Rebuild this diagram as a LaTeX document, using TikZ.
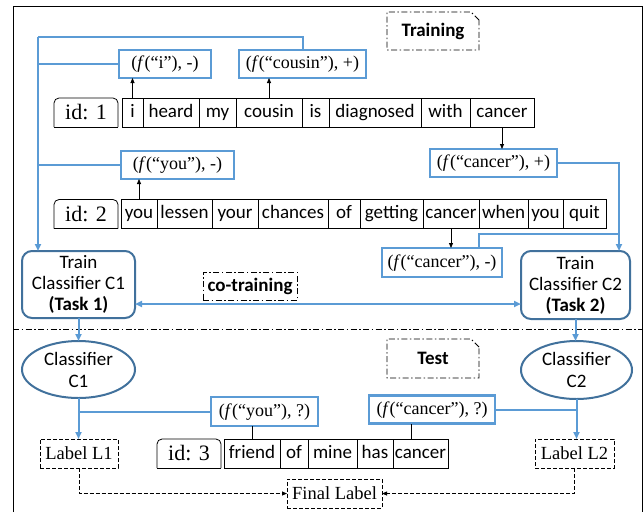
\documentclass[tikz,border=0pt]{standalone}
\usepackage{fontspec}
\setmainfont{Liberation Serif}
\setsansfont{Carlito}
\usepackage{tikz}
\usetikzlibrary{positioning,arrows.meta,shapes.geometric,shapes.misc}
\definecolor{lineblue}{RGB}{91,155,213}
\definecolor{edgeblue}{RGB}{65,113,156}

\begin{document}
\begin{tikzpicture}[x=1pt,y=1pt]
        \tikzstyle{every node}+=[inner sep=0pt, outer sep=0pt]
        \tikzstyle{word}=[draw, line width=0.8pt, font=\sffamily\fontsize{19}{21}\selectfont, minimum height=29pt, text height=13.5pt, text depth=4pt]
        \tikzstyle{idtab}=[font=\fontsize{22}{24}\selectfont, minimum width=64pt, minimum height=29pt, text height=15pt, text depth=1pt]
        \tikzstyle{feat}=[draw=lineblue, line width=2.2pt, font=\fontsize{18}{20}\selectfont, minimum height=28pt, text height=13pt, text depth=4pt]
        \tikzstyle{train}=[draw=edgeblue, line width=2pt, rounded corners=10pt, align=center, font=\sffamily\fontsize{19}{21}\selectfont]
        \tikzstyle{clf}=[draw=edgeblue, line width=2pt, ellipse, align=center, font=\sffamily\fontsize{19}{22}\selectfont]
        \tikzstyle{dashdot}=[dash pattern=on 6pt off 2.5pt on 1.5pt off 2.5pt]
        \tikzstyle{tag}=[draw, line width=0.8pt, dashdot, chamfered rectangle, chamfered rectangle corners=north east, chamfered rectangle xsep=4pt, chamfered rectangle ysep=4pt, font=\sffamily\bfseries\fontsize{19}{21}\selectfont]
        \tikzstyle{lbl}=[draw, line width=0.8pt, dash pattern=on 4pt off 2pt, minimum height=29pt, font=\fontsize{18.5}{20}\selectfont]
        \tikzstyle{bl}=[draw=lineblue, line width=2pt]
        \tikzstyle{blarrow}=[bl, -{Triangle[length=7pt,width=6pt]}]
        \tikzstyle{blkarrow}=[line width=0.8pt, -{Triangle[length=5pt,width=4pt]}]
        \tikzstyle{dasharrow}=[line width=0.8pt, dash pattern=on 4pt off 2pt, -{Triangle[length=5pt,width=4pt]}]
        \useasboundingbox (0,0) rectangle (644,-512);
        % frame and divider
        \draw [black, line width=1pt] (13,-512) -- (13,-6) -- (642,-6) -- (642,-512);
        \draw [black, line width=0.8pt, dashdot] (13,-329) -- (642,-329);
        % headings
        \node [tag, minimum width=92pt, minimum height=38pt] (trn) at (433,-31) {Training};
        \node [tag, minimum width=92pt, minimum height=39pt] (tst) at (433,-358.5) {Test};
        \node [draw, line width=0.8pt, dashdot, minimum width=94pt, minimum height=28pt, font=\sffamily\bfseries\fontsize{19}{21}\selectfont] (cot) at (250,-286) {co-training};
        % sentence 1
        \node [idtab] (id1) at (86,-112.5) {id: 1};
        \draw [black, line width=0.8pt, rounded corners=5pt] (id1.south west) -- (id1.north west) -- (id1.north east) -- (id1.south east);
        \draw [black, line width=0.8pt] (id1.south west) -- (id1.south east);
        \node [word, minimum width=21pt, right=4pt of id1] (r1w1) {i};
        \node [word, minimum width=56pt, right=0pt of r1w1] (r1w2) {heard};
        \node [word, minimum width=37pt, right=0pt of r1w2] (r1w3) {my};
        \node [word, minimum width=66pt, right=0pt of r1w3] (r1w4) {cousin};
        \node [word, minimum width=27pt, right=0pt of r1w4] (r1w5) {is};
        \node [word, minimum width=92pt, right=0pt of r1w5] (r1w6) {diagnosed};
        \node [word, minimum width=49pt, right=0pt of r1w6] (r1w7) {with};
        \node [word, minimum width=64pt, right=0pt of r1w7] (r1w8) {cancer};
        % sentence 2
        \node [idtab] (id2) at (86,-214) {id: 2};
        \draw [black, line width=0.8pt, rounded corners=5pt] (id2.south west) -- (id2.north west) -- (id2.north east) -- (id2.south east);
        \draw [black, line width=0.8pt] (id2.south west) -- (id2.south east);
        \node [word, minimum width=36pt, right=3pt of id2] (r2w1) {you};
        \node [word, minimum width=55pt, right=0pt of r2w1] (r2w2) {lessen};
        \node [word, minimum width=46pt, right=0pt of r2w2] (r2w3) {your};
        \node [word, minimum width=70pt, right=0pt of r2w3] (r2w4) {chances};
        \node [word, minimum width=32pt, right=0pt of r2w4] (r2w5) {of};
        \node [word, minimum width=63pt, right=0pt of r2w5] (r2w6) {getting};
        \node [word, minimum width=56pt, right=0pt of r2w6] (r2w7) {cancer};
        \node [word, minimum width=49pt, right=0pt of r2w7] (r2w8) {when};
        \node [word, minimum width=35pt, right=0pt of r2w8] (r2w9) {you};
        \node [word, minimum width=43pt, right=0pt of r2w9] (r2w10) {quit};
        % sentence 3
        \node [idtab] (id3) at (189,-453.5) {id: 3};
        \draw [black, line width=0.8pt, rounded corners=5pt] (id3.south west) -- (id3.north west) -- (id3.north east) -- (id3.south east);
        \draw [black, line width=0.8pt] (id3.south west) -- (id3.south east);
        \node [word, minimum width=56pt, right=3pt of id3] (r3w1) {friend};
        \node [word, minimum width=28pt, right=0pt of r3w1] (r3w2) {of};
        \node [word, minimum width=49pt, right=0pt of r3w2] (r3w3) {mine};
        \node [word, minimum width=36pt, right=0pt of r3w3] (r3w4) {has};
        \node [word, minimum width=55pt, right=0pt of r3w4] (r3w5) {cancer};
        % features
        \node [feat, minimum width=92pt] (fi) at (165,-64) {(\textit{f}(“i”), -)};
        \node [feat, minimum width=127pt] (fcousin) at (302.5,-64) {(\textit{f}(“cousin”), +)};
        \node [feat, minimum width=127pt] (fcancerP) at (493.5,-163) {(\textit{f}(“cancer”), +)};
        \node [feat, minimum width=113pt] (fyou) at (177.5,-165) {(\textit{f}(“you”), -)};
        \node [feat, minimum width=120pt, minimum height=29pt] (fcancerM) at (442,-262.5) {(\textit{f}(“cancer”), -)};
        \node [feat, minimum width=107pt, minimum height=29pt] (fyouQ) at (264.5,-411.5) {(\textit{f}(“you”), ?)};
        \node [feat, minimum width=126pt] (fcancerQ) at (432,-409.5) {(\textit{f}(“cancer”), ?)};
        % classifiers
        \node [train, minimum width=113pt, minimum height=67pt] (trainA) at (78.5,-284.5) {Train\\Classifier C1\\\textbf{(Task 1)}};
        \node [train, minimum width=109pt, minimum height=68pt] (trainB) at (575.5,-285) {Train\\Classifier C2\\\textbf{(Task 2)}};
        \node [clf, minimum width=113pt, minimum height=57pt] (clfA) at (78.5,-369.5) {Classifier\\C1};
        \node [clf, minimum width=111pt, minimum height=58pt] (clfB) at (576.5,-370) {Classifier\\C2};
        % labels
        \node [lbl, minimum width=78pt] (lab1) at (79,-453.5) {Label L1};
        \node [lbl, minimum width=79pt] (lab2) at (574.5,-453.5) {Label L2};
        \node [lbl, minimum width=95pt] (fin) at (334.5,-493.5) {Final Label};
        % word to feature
        \draw [blkarrow] (r1w1.north) -- (r1w1.north |- fi.south);
        \draw [blkarrow] (r1w4.north) -- (r1w4.north |- fcousin.south);
        \draw [blkarrow] (r1w8.south) -- (r1w8.south |- fcancerP.north);
        \draw [blkarrow] (r2w1.north) -- (r2w1.north |- fyou.south);
        \draw [blkarrow] (r2w7.south) -- (r2w7.south |- fcancerM.north);
        \draw [black, line width=0.8pt] (r3w1.north) -- (r3w1.north |- fyouQ.south);
        \draw [black, line width=0.8pt] ([xshift=-9pt]r3w5.north) -- ([xshift=-9pt]r3w5.north |- fcancerQ.south);
        % feature to training
        \coordinate (topL) at (38,-37);
        \coordinate (rgt) at (619,-163);
        \coordinate (rgtB) at (619,-234);
        \draw [bl] (fcousin.north) |- (topL);
        \draw [blarrow] (topL) -- (topL |- trainA.north);
        \draw [bl] (fi.west) -- (fi.west -| topL);
        \draw [bl] (fyou.west) -- (fyou.west -| topL);
        \draw [blarrow] (fcancerP.east) -| (rgt |- trainB.north);
        \draw [bl] ([xshift=37pt]fcancerM.north) |- (rgtB);
        \draw [bl, {Triangle[length=7pt,width=6pt]}-{Triangle[length=7pt,width=6pt]}] ([yshift=-19.5pt]trainA.east) -- ([yshift=-19.5pt]trainA.east -| trainB.west);
        % test
        \draw [blarrow] (trainA.south) -- (clfA.north);
        \draw [blarrow] (trainB.south) -- (trainB.south |- clfB.north);
        \draw [blarrow] (clfA.south) -- (clfA.south |- lab1.north);
        \draw [bl] (fyouQ.west) -- (fyouQ.west -| clfA.south);
        \draw [blarrow] (clfB.south) -- (clfB.south |- lab2.north);
        \draw [bl] (fcancerQ.east) -- (fcancerQ.east -| clfB.south);
        \draw [dasharrow] (lab1.south) |- (fin.west);
        \draw [dasharrow] (lab2.south) |- (fin.east);
\end{tikzpicture}
\end{document}
